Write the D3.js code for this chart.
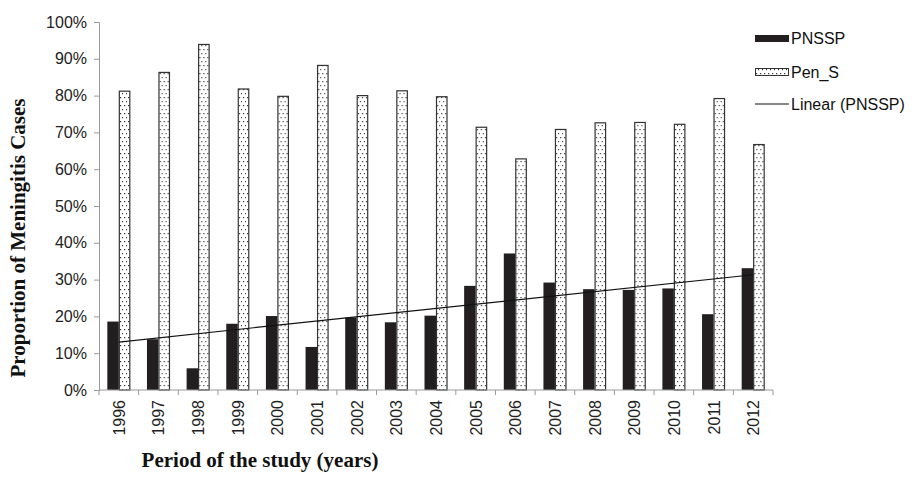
<!DOCTYPE html>
<html>
<head>
<meta charset="utf-8">
<script src="https://cdn.jsdelivr.net/npm/d3@7"></script>
<style>
  body { margin: 0; background: #fff; }
  svg { display: block; }
  .tick text { font-family: "Liberation Sans", Arial, sans-serif; font-size: 16px; fill: #222; }
  .axis-title { font-family: "Liberation Serif", "Times New Roman", serif; font-weight: bold; font-size: 21px; fill: #111; }
  .legend text { font-family: "Liberation Sans", Arial, sans-serif; font-size: 16px; fill: #111; }
</style>
</head>
<body>
<svg id="chart" width="915" height="478"></svg>
<script>
// data
const years = ["1996","1997","1998","1999","2000","2001","2002","2003","2004",
               "2005","2006","2007","2008","2009","2010","2011","2012"];
const pnssp = [18.6, 13.8, 5.9, 18.0, 20.1, 11.7, 19.7, 18.4, 20.2,
               28.3, 37.1, 29.2, 27.4, 27.2, 27.6, 20.6, 33.1];
const penS  = [81.2, 86.3, 93.9, 81.8, 79.8, 88.2, 80.0, 81.3, 79.7,
               71.4, 62.8, 70.8, 72.6, 72.7, 72.2, 79.2, 66.7];
const yTicks = [0, 10, 20, 30, 40, 50, 60, 70, 80, 90, 100];
const seriesNames = ["PNSSP", "Pen_S"];

const margin = {left: 99, top: 22, right: 142, bottom: 88};
const width = 915, height = 478;

let svg = d3.select("#chart");

// dotted fill for the Pen_S bars
let pattern = svg.append("defs").append("pattern")
    .attr("id", "dots")
    .attr("width", 4)
    .attr("height", 8)
    .attr("patternUnits", "userSpaceOnUse");
pattern.append("rect").attr("width", 4).attr("height", 8).attr("fill", "#fff");
pattern.append("rect").attr("x", 1).attr("y", 1).attr("width", 1.2).attr("height", 1.2).attr("fill", "#333");
pattern.append("rect").attr("x", 3).attr("y", 5).attr("width", 1.2).attr("height", 1.2).attr("fill", "#333");

let x = d3.scaleBand()
    .domain(years)
    .range([margin.left, width - margin.right]);
let groupW = 23;
let xSub = d3.scaleBand()
    .domain(seriesNames)
    .range([(x.bandwidth() - groupW) / 2, (x.bandwidth() + groupW) / 2]);
let y = d3.scaleLinear()
    .domain([0, 100])
    .range([height - margin.bottom, margin.top]);

// y axis
let yAxis = svg.append("g")
    .attr("transform", "translate(" + margin.left + ",0)")
    .call(d3.axisLeft(y).tickValues(yTicks).tickFormat(d => d + "%").tickSize(5).tickPadding(7));
yAxis.select(".domain").attr("stroke", "#999");
yAxis.selectAll(".tick line").attr("stroke", "#999");

// bars
let data = years.map((yr, i) => ({year: yr, PNSSP: pnssp[i], Pen_S: penS[i]}));
let groups = svg.append("g").selectAll("g")
    .data(data)
    .enter().append("g")
    .attr("transform", d => "translate(" + x(d.year) + ",0)");

groups.append("rect")
    .attr("x", xSub("PNSSP"))
    .attr("y", d => y(d.PNSSP))
    .attr("width", xSub.bandwidth())
    .attr("height", d => y(0) - y(d.PNSSP))
    .attr("fill", "#231f20");

groups.append("rect")
    .attr("x", xSub("Pen_S") + 0.5)
    .attr("y", d => y(d.Pen_S))
    .attr("width", xSub.bandwidth() - 1)
    .attr("height", d => y(0) - y(d.Pen_S))
    .attr("fill", "url(#dots)")
    .attr("stroke", "#333")
    .attr("stroke-width", 1.2);

// x axis with ticks on category boundaries
let xg = svg.append("g")
    .attr("transform", "translate(0," + y(0) + ")");
xg.append("line")
    .attr("x1", margin.left).attr("x2", width - margin.right)
    .attr("stroke", "#999");
xg.selectAll(".bound")
    .data(years.concat(["end"]))
    .enter().append("line")
    .attr("x1", (d, i) => margin.left + i * x.step())
    .attr("x2", (d, i) => margin.left + i * x.step())
    .attr("y2", 5)
    .attr("stroke", "#999");
xg.selectAll(".lab")
    .data(years)
    .enter().append("text")
    .attr("transform", d => "translate(" + (x(d) + x.bandwidth() / 2 + 6) + ",10) rotate(-90)")
    .attr("text-anchor", "end")
    .style("font-family", "Liberation Sans, Arial, sans-serif")
    .style("font-size", "16px")
    .attr("fill", "#222")
    .text(d => d);

// linear trend of PNSSP (least squares)
let n = pnssp.length;
let xs = d3.range(1, n + 1);
let mx = d3.mean(xs), my = d3.mean(pnssp);
let slope = d3.sum(xs, (v, i) => (v - mx) * (pnssp[i] - my)) / d3.sum(xs, v => (v - mx) * (v - mx));
let icpt = my - slope * mx;
svg.append("line")
    .attr("x1", x(years[0]) + x.bandwidth() / 2)
    .attr("y1", y(icpt + slope * 1))
    .attr("x2", x(years[n - 1]) + x.bandwidth() / 2)
    .attr("y2", y(icpt + slope * n))
    .attr("stroke", "#111")
    .attr("stroke-width", 1.2);

// axis titles
svg.append("text")
    .attr("class", "axis-title")
    .attr("transform", "translate(25,238) rotate(-90)")
    .attr("text-anchor", "middle")
    .text("Proportion of Meningitis Cases");
svg.append("text")
    .attr("class", "axis-title")
    .attr("x", 260)
    .attr("y", 467)
    .attr("text-anchor", "middle")
    .text("Period of the study (years)");

// legend
let legend = svg.append("g").attr("class", "legend").attr("transform", "translate(755,0)");
legend.append("rect").attr("x", 0).attr("y", 35).attr("width", 34).attr("height", 7).attr("fill", "#231f20");
legend.append("text").attr("x", 36).attr("y", 44).text("PNSSP");
legend.append("rect").attr("x", 0.5).attr("y", 68.5).attr("width", 33).attr("height", 7)
    .attr("fill", "url(#dots)").attr("stroke", "#333");
legend.append("text").attr("x", 36).attr("y", 78).text("Pen_S");
legend.append("line").attr("x1", 0).attr("x2", 34).attr("y1", 104).attr("y2", 104)
    .attr("stroke", "#111").attr("stroke-width", 1.2);
legend.append("text").attr("x", 36).attr("y", 110).text("Linear (PNSSP)");
</script>
</body>
</html>
